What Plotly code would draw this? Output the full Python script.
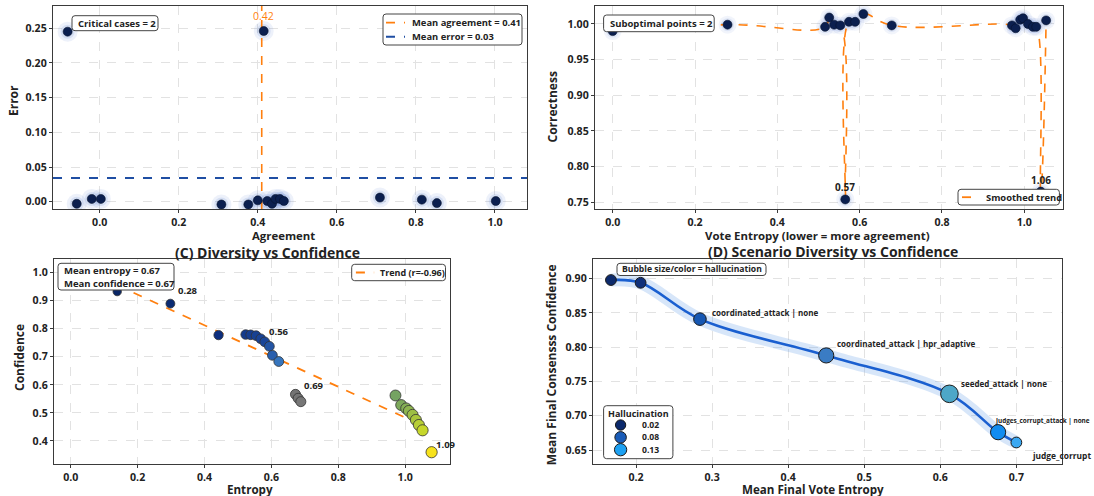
import numpy as np
import plotly.graph_objects as go

FONT = "Open Sans"

# ---------------- Panel A : agreement vs error ----------------
agreement = [-0.081, 0.415, -0.058, -0.020, 0.003, 0.308, 0.376, 0.400, 0.424,
             0.436, 0.445, 0.456, 0.466, 0.709, 0.815, 0.853, 1.002]
error = [0.245, 0.246, -0.003, 0.004, 0.004, -0.004, -0.004, 0.002, 0.001,
         -0.003, 0.004, 0.004, 0.001, 0.006, 0.003, -0.002, 0.001]
mean_agreement = 0.41
mean_error = 0.034
critical_cases = 2
label_a = "0.42"

# ---------------- Panel B : vote entropy vs correctness ----------------
vote_entropy = [0.000, 0.279, 0.516, 0.526, 0.538, 0.553, 0.565, 0.574, 0.589, 0.609,
                0.678, 0.970, 0.979, 0.990, 0.997, 1.009, 1.021, 1.029, 1.040, 1.053]
correctness = [0.990, 0.999, 0.996, 1.009, 0.999, 0.998, 0.754, 1.003, 1.003, 1.014,
               0.998, 0.998, 0.994, 1.006, 1.008, 1.000, 0.996, 0.996, 0.765, 1.005]
suboptimal_points = 2
dip_labels_b = {6: "0.57", 18: "1.06"}

# ---------------- Panel C : entropy vs confidence ----------------
entropy_c = [0.139, 0.298, 0.442, 0.523, 0.538, 0.554, 0.568, 0.580, 0.594, 0.603,
             0.622, 0.672, 0.680, 0.688, 0.971, 0.988, 1.003, 1.011, 1.022, 1.032,
             1.041, 1.052, 1.079]
confidence_c = [0.932, 0.889, 0.777, 0.779, 0.778, 0.775, 0.764, 0.753, 0.737, 0.705,
                0.683, 0.566, 0.552, 0.540, 0.562, 0.528, 0.516, 0.507, 0.493, 0.475,
                0.457, 0.438, 0.360]
mean_entropy_c = 0.67
mean_confidence_c = 0.67
trend_r = -0.96
labels_c = {1: "0.28", 8: "0.56", 13: "0.69", 22: "1.09"}

# ---------------- Panel D : scenario diversity vs confidence ----------------
scen_entropy = [0.167, 0.206, 0.284, 0.450, 0.612, 0.676, 0.700]
scen_conf = [0.898, 0.894, 0.841, 0.788, 0.732, 0.676, 0.661]
scen_halluc = [0.02, 0.02, 0.065, 0.13, 0.19, 0.13, 0.02]
scen_labels = ["", "", "coordinated_attack | none", "coordinated_attack | hpr_adaptive",
               "seeded_attack | none", "judges_corrupt_attack | none", "judge_corrupt"]
halluc_legend = [0.02, 0.08, 0.13]

# ---------------- styles ----------------
NAVY = "#0b1f4f"
ORANGE = "#ff7f0e"
BLUE_LINE = "#1f4ea3"
DARK = "#222222"
scen_colors = ["#0c2a6c", "#10307a", "#1657b2", "#3a7cc4", "#4da7c8", "#128cf0", "#3aa8f2"]
halluc_legend_colors = ["#0c2a6c", "#1a5cb8", "#1da1f2"]
scen_label_shift = [(0, 0), (0, 0), (10, 7), (9, 12), (10, 10), (-5, 12), (14, -13)]
scen_label_size = [8, 8, 8, 8, 8, 6.4, 8.4]
label_c_shift = {1: (18, 13), 8: (10, 15), 13: (13, 16), 22: (14, 8)}
W, H = 1094, 496


def bsize(h):
    return 10 + 40 * h


def px(x):
    return x / W


def py(y):
    return 1 - y / H


fig = go.Figure()

# ---- Panel A traces
XA = [-0.118, 1.081]
YA = [-0.0105, 0.282]
for s, c in [(20, "rgba(80,120,210,0.10)"), (14, "rgba(80,120,210,0.15)")]:
    fig.add_trace(go.Scatter(x=agreement, y=error, mode="markers", xaxis="x", yaxis="y",
                             marker=dict(size=s, color=c, opacity=1), hoverinfo="skip"))
fig.add_trace(go.Scatter(x=[mean_agreement, mean_agreement], y=YA, mode="lines", xaxis="x", yaxis="y",
                         line=dict(color=ORANGE, width=1.6, dash="dash")))
fig.add_trace(go.Scatter(x=XA, y=[mean_error, mean_error], mode="lines", xaxis="x", yaxis="y",
                         line=dict(color=BLUE_LINE, width=2, dash="dash")))
fig.add_trace(go.Scatter(x=agreement, y=error, mode="markers", xaxis="x", yaxis="y",
                         marker=dict(size=9, color=NAVY, opacity=1, line=dict(color="#06122e", width=0.6))))

# ---- Panel B traces
order = np.argsort(vote_entropy)
bx = np.array(vote_entropy)[order]
by = np.array(correctness)[order]
for s, c in [(18, "rgba(80,120,210,0.08)"), (13, "rgba(80,120,210,0.12)")]:
    fig.add_trace(go.Scatter(x=vote_entropy, y=correctness, mode="markers", xaxis="x2", yaxis="y2",
                             marker=dict(size=s, color=c, opacity=1), hoverinfo="skip"))
fig.add_trace(go.Scatter(x=bx, y=by, mode="lines", xaxis="x2", yaxis="y2",
                         line=dict(color=ORANGE, width=1.6, dash="dash", shape="spline", smoothing=1.3)))
fig.add_trace(go.Scatter(x=vote_entropy, y=correctness, mode="markers", xaxis="x2", yaxis="y2",
                         marker=dict(size=9, color=NAVY, opacity=1, line=dict(color="#06122e", width=0.6))))

# ---- Panel C traces
ec = np.array(entropy_c)
cc = np.array(confidence_c)
slope, icpt = np.polyfit(ec, cc, 1)
tx = np.array([ec.min(), np.percentile(ec, 80)])
fig.add_trace(go.Scatter(x=tx, y=slope * tx + icpt, mode="lines", xaxis="x3", yaxis="y3",
                         line=dict(color=ORANGE, width=1.8, dash="dash")))
cscale = [[0.0, "#0a2766"], [0.35, "#0d2f80"], [0.47, "#1a4699"], [0.50, "#2d66b2"],
          [0.52, "#3a7cc2"], [0.55, "#707070"], [0.60, "#7a7a7a"], [0.86, "#6b9a6b"],
          [0.92, "#84af55"], [0.97, "#c4d62c"], [1.0, "#f7e21c"]]
fig.add_trace(go.Scatter(x=entropy_c, y=confidence_c, mode="markers", xaxis="x3", yaxis="y3",
                         marker=dict(size=8 + 3 * ec, color=entropy_c, colorscale=cscale,
                                     cmin=ec.min(), cmax=ec.max(), opacity=1,
                                     line=dict(color="#333333", width=0.8))))

# ---- Panel D traces
fig.add_trace(go.Scatter(x=scen_entropy, y=scen_conf, mode="lines", xaxis="x4", yaxis="y4",
                         line=dict(color="rgba(110,165,235,0.28)", width=13, shape="spline", smoothing=1.0),
                         hoverinfo="skip"))
fig.add_trace(go.Scatter(x=scen_entropy, y=scen_conf, mode="lines", xaxis="x4", yaxis="y4",
                         line=dict(color="#1a5fd0", width=2.6, shape="spline", smoothing=1.0)))
fig.add_trace(go.Scatter(x=scen_entropy, y=scen_conf, mode="markers", xaxis="x4", yaxis="y4",
                         marker=dict(size=[bsize(h) for h in scen_halluc], color=scen_colors, opacity=1,
                                     line=dict(color="#1a1a1a", width=1))))

# ---------------- layout ----------------
tickfont = dict(family=FONT, size=10.6, color=DARK, weight="bold")


def ax(domain, rng, dtick, fmt, anchor, tick0=0):
    return dict(domain=domain, range=rng, dtick=dtick, tick0=tick0, tickformat=fmt, anchor=anchor,
                showline=True, mirror=True, linecolor="#3a3a3a", linewidth=1.3,
                ticks="outside", ticklen=3, tickcolor="#3a3a3a", tickfont=tickfont,
                showgrid=True, gridcolor="#e2e2e2", griddash="dash", gridwidth=0.8,
                zeroline=False)


YROW1 = [py(209), py(6)]
YROW2 = [py(464), py(259)]
fig.update_layout(
    width=W, height=H, margin=dict(l=0, r=0, t=0, b=0), showlegend=False,
    paper_bgcolor="white", plot_bgcolor="white",
    font=dict(family=FONT, color=DARK),
    xaxis=ax([px(53), px(527)], XA, 0.2, ".1f", "y"),
    yaxis=ax(YROW1, YA, 0.05, ".2f", "x"),
    xaxis2=ax([px(595), px(1063)], [-0.043, 1.094], 0.2, ".1f", "y2"),
    yaxis2=ax(YROW1, [0.7406, 1.0252], 0.05, ".2f", "x2"),
    xaxis3=ax([px(54), px(450)], [-0.05, 1.134], 0.2, ".1f", "y3"),
    yaxis3=ax(YROW2, [0.318, 1.048], 0.1, ".1f", "x3"),
    xaxis4=ax([px(593), px(1062)], [0.1434, 0.760], 0.1, ".1f", "y4"),
    yaxis4=ax(YROW2, [0.6296, 0.9287], 0.05, ".2f", "x4"),
)

ann = []
shapes = []


def rbox(x0, y0, x1, y1, r=3):
    X0, X1, Y0, Y1 = px(x0), px(x1), py(y1), py(y0)
    rx, ry = r / W, r / H
    path = (f"M {X0 + rx},{Y0} L {X1 - rx},{Y0} Q {X1},{Y0} {X1},{Y0 + ry} "
            f"L {X1},{Y1 - ry} Q {X1},{Y1} {X1 - rx},{Y1} L {X0 + rx},{Y1} Q {X0},{Y1} {X0},{Y1 - ry} "
            f"L {X0},{Y0 + ry} Q {X0},{Y0} {X0 + rx},{Y0} Z")
    shapes.append(dict(type="path", xref="paper", yref="paper", path=path,
                       fillcolor="white", line=dict(color="#444444", width=1), layer="above"))


def ptext(x, y, t, size=9.5, xanchor="left", color=DARK, weight="bold", angle=0):
    ann.append(dict(x=px(x), y=py(y), xref="paper", yref="paper", text=t, showarrow=False,
                    xanchor=xanchor, yanchor="middle", textangle=angle,
                    font=dict(family=FONT, size=size, color=color, weight=weight)))


def legline(x0, x1, y, color, width=1.8):
    shapes.append(dict(type="line", xref="paper", yref="paper", x0=px(x0), x1=px(x1), y0=py(y), y1=py(y),
                       line=dict(color=color, width=width, dash="dash"), layer="above"))


def legcircle(cx, cy, d, color):
    shapes.append(dict(type="circle", xref="paper", yref="paper", xsizemode="pixel", ysizemode="pixel",
                       xanchor=px(cx), yanchor=py(cy), x0=-d / 2, x1=d / 2, y0=-d / 2, y1=d / 2,
                       fillcolor=color, line=dict(color="#1a1a1a", width=1), layer="above"))


# ---- Panel A text / legend
ann.append(dict(x=agreement[1], y=error[1], xref="x", yref="y", text=label_a, showarrow=False,
                yshift=15, font=dict(family=FONT, size=10.5, color=ORANGE)))
rbox(72, 15.7, 158, 30.7)
ptext(76, 23.2, f"Critical cases = {critical_cases}", 9.5)
rbox(383, 14, 522, 45)
legline(386, 405, 22.7, ORANGE)
legline(386, 405, 36.7, BLUE_LINE, 2)
ptext(410, 22.7, f"Mean agreement = {mean_agreement:.2f}", 9.4)
ptext(410, 36.7, f"Mean error = {mean_error:.2f}", 9.4)

# ---- Panel B text / legend
for i, t in dip_labels_b.items():
    ann.append(dict(x=vote_entropy[i], y=correctness[i], xref="x2", yref="y2", text=t, showarrow=False,
                    yshift=12, font=dict(family=FONT, size=10, color=DARK, weight="bold")))
rbox(603.6, 15, 714.2, 31.7)
ptext(607.5, 23.3, f"Suboptimal points = {suboptimal_points}", 9.5)
rbox(958, 189.3, 1059.4, 205)
legline(962, 980, 197.2, ORANGE)
ptext(984, 197.2, "Smoothed trend", 9.4)

# ---- Panel C text / legend
for i, t in labels_c.items():
    dx, dy = label_c_shift[i]
    ann.append(dict(x=entropy_c[i], y=confidence_c[i], xref="x3", yref="y3", text=t, showarrow=False,
                    xshift=dx, yshift=dy, font=dict(family=FONT, size=9.5, color=DARK, weight="bold")))
rbox(58, 263.3, 174, 290)
ptext(62, 270.7, f"Mean entropy = {mean_entropy_c:.2f}", 9.5)
ptext(62, 283.3, f"Mean confidence = {mean_confidence_c:.2f}", 9.5)
rbox(351.7, 264.3, 445.5, 280.7)
legline(355.9, 374.1, 272.5, ORANGE)
ptext(378, 272.5, f"Trend (r={trend_r:.2f})", 9)

# ---- Panel D text / legend
for i, t in enumerate(scen_labels):
    if not t:
        continue
    dx, dy = scen_label_shift[i]
    ann.append(dict(x=scen_entropy[i], y=scen_conf[i], xref="x4", yref="y4", text=t, showarrow=False,
                    xanchor="left", yanchor="middle", xshift=dx, yshift=dy,
                    font=dict(family=FONT, size=scen_label_size[i], color=DARK, weight="bold")))
rbox(617, 263.3, 766, 275.5)
ptext(620, 269.4, "Bubble size/color = hallucination", 8.6)
rbox(603.6, 405.7, 672.9, 458.7)
ptext(638, 413, "Hallucination", 9, xanchor="center")
for k, (v, c) in enumerate(zip(halluc_legend, halluc_legend_colors)):
    yy = 425 + 12.35 * k
    legcircle(620.6, yy, bsize(v) - 0.5 - 1.2 * k, c)
    ptext(639.6, yy, f"{v:.2f}", 8.6)

# ---- Titles / axis titles
TS = 11.4
ptext(284, 235, "Agreement", TS, "center")
ptext(817, 235, "Vote Entropy (lower = more agreement)", TS, "center")
ptext(13, 101, "Error", 12, "center", angle=-90)
ptext(552, 107.5, "Correctness", 12, "center", angle=-90)
ptext(267, 252, "(C) Diversity vs Confidence", 14, "center")
ptext(832.6, 251, "(D) Scenario Diversity vs Confidence", 14, "center")
ptext(19, 358, "Confidence", 12, "center", angle=-90)
ptext(551.3, 365, "Mean Final Consensss Confidence", 12, "center", angle=-90)
ptext(249.7, 489.5, "Entropy", 11.6, "center")
ptext(812.8, 489.5, "Mean Final Vote Entropy", 11.6, "center")

fig.update_layout(annotations=ann, shapes=shapes)

fig.write_html("out.html")
